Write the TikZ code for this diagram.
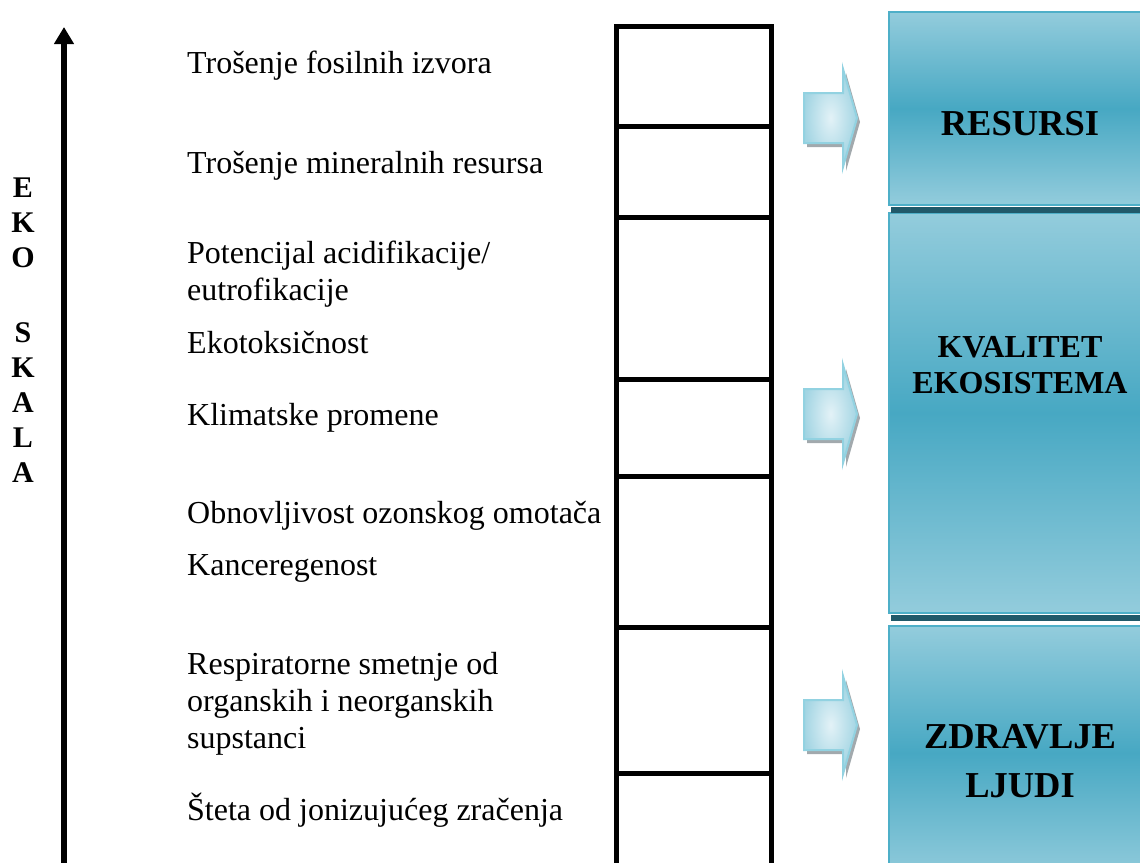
\documentclass[tikz,border=0pt]{standalone}
\usepackage{fontspec}
\setmainfont{Liberation Serif}
\usetikzlibrary{arrows.meta,calc}

\definecolor{boxLight}{HTML}{93CCDC}
\definecolor{boxDark}{HTML}{47A8C3}
\definecolor{boxEdge}{HTML}{4EAFC8}
\definecolor{boxShadow}{HTML}{21596A}
\definecolor{arrowIn}{HTML}{E3F2F7}
\definecolor{arrowOut}{HTML}{A3D5E3}
\definecolor{arrowEdge}{HTML}{92D2E1}
\definecolor{arrowShadow}{HTML}{A2A9AD}

% multi-line nodes are anchored at the baseline of their last line
\tikzset{
  item/.style={anchor=base west, inner sep=0pt, align=left,
    font=\fontsize{32bp}{37bp}\selectfont},
  cell/.style={draw=black, line width=5bp, fill=white},
  catbox/.style={draw=boxEdge, line width=2bp, rectangle, inner sep=0pt,
    minimum width=262bp,
    top color=boxLight, bottom color=boxLight, middle color=boxDark},
  cattext/.style={anchor=base, inner sep=0pt, align=center,
    font=\bfseries\fontsize{36.5bp}{49bp}\selectfont},
  scaletext/.style={anchor=base, inner sep=0pt, align=center,
    font=\bfseries\fontsize{30bp}{35bp}\selectfont},
  pics/flowarrow/.style={code={
    \fill[arrowShadow] (3,-21) -- (42,-21) -- (42,-45) -- (56,4)
      -- (42,53) -- (42,29) -- (3,29) -- cycle;
    \draw[draw=arrowEdge, line width=2bp, inner color=arrowIn, outer color=arrowOut]
      (0,-25) -- (39,-25) -- (39,-49) -- (53,0) -- (39,49) -- (39,25)
      -- (0,25) -- cycle;
  }}
}

\begin{document}
\begin{tikzpicture}[x=1bp,y=-1bp]
\useasboundingbox (0,0) rectangle (1140,863);
\clip (0,0) rectangle (1140,863);

% vertical eco-scale axis
\coordinate (axisbot) at (64,880);
\coordinate (axistop) at (64,27);
\draw[line width=6bp, -{Triangle[width=19bp,length=17bp]}] (axisbot) -- (axistop);

\node[scaletext] (eko) at (23,267) {E\\K\\O};
\node[scaletext] (skala) at (23,482) {S\\K\\A\\L\\A};

% column of empty cells
\draw[cell] (616.5,26.5) rectangle (771.5,126);
\draw[cell] (616.5,126) rectangle (771.5,217.5);
\draw[cell] (616.5,217.5) rectangle (771.5,379);
\draw[cell] (616.5,379) rectangle (771.5,476);
\draw[cell] (616.5,476) rectangle (771.5,627);
\draw[cell] (616.5,627) rectangle (771.5,773);
\draw[cell] (616.5,773) rectangle (771.5,900);

% impact categories
\node[item] (t1) at (187,73) {Trošenje fosilnih izvora};
\node[item] (t2) at (187,173) {Trošenje mineralnih resursa};
\node[item] (t3) at (187,300) {Potencijal acidifikacije/\\eutrofikacije};
\node[item] (t4) at (187,353) {Ekotoksičnost};
\node[item] (t5) at (187,425) {Klimatske promene};
\node[item] (t6) at (187,523) {Obnovljivost ozonskog omotača};
\node[item] (t7) at (187,575) {Kanceregenost};
\node[item] (t8) at (187,748) {Respiratorne smetnje od\\organskih i neorganskih\\supstanci};
\node[item] (t9) at (187,820) {Šteta od jonizujućeg zračenja};

% damage categories with their shadows
\node[catbox, minimum height=193bp] (res) at (1020,108.5) {};
\node[catbox, minimum height=400bp] (eco) at (1020,413) {};
\node[catbox, minimum height=254bp] (hum) at (1020,753) {};

\fill[boxShadow] ($(res.south west)+(3,1)$) rectangle ($(res.south east)+(3,7)$);
\fill[boxShadow] ($(eco.south west)+(3,1)$) rectangle ($(eco.south east)+(3,7)$);

\node[cattext] (resl) at (1020,135) {RESURSI};
\node[cattext, font=\bfseries\fontsize{32bp}{36bp}\selectfont] (ecol) at (1020,393) {KVALITET\\EKOSISTEMA};
\node[cattext] (huml) at (1020,797) {ZDRAVLJE\\LJUDI};

% block arrows pointing to the damage categories
\pic at (804,118) {flowarrow};
\pic at (804,414) {flowarrow};
\pic at (804,725) {flowarrow};
\end{tikzpicture}
\end{document}
